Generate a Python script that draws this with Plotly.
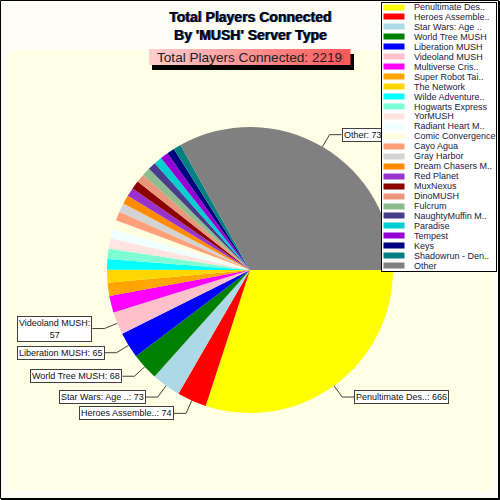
import numpy as np
import plotly.graph_objects as go

names = ["Penultimate Des..", "Heroes Assemble..", "Star Wars: Age ..", "World Tree MUSH",
         "Liberation MUSH", "Videoland MUSH", "Multiverse Cris..", "Super Robot Tai..",
         "The Network", "Wilde Adventure..", "Hogwarts Express", "YorMUSH",
         "Radiant Heart M..", "Comic Convergence", "Cayo Agua", "Gray Harbor",
         "Dream Chasers M..", "Red Planet", "MuxNexus", "DinoMUSH", "Fulcrum",
         "NaughtyMuffin M..", "Paradise", "Tempest", "Keys", "Shadowrun - Den..", "Other"]
players = [666, 74, 73, 68, 65, 57, 42, 33, 32, 27, 26, 25, 24, 23, 23, 22,
           22, 22, 21, 21, 21, 20, 20, 20, 19, 19, 734]
colors = ["yellow", "red", "lightblue", "green", "blue", "pink", "magenta", "orange",
          "gold", "cyan", "aquamarine", "mistyrose", "azure", "lightyellow", "lightsalmon",
          "lightgray", "darkorange", "darkorchid", "darkred", "darksalmon", "darkseagreen",
          "darkslateblue", "darkturquoise", "darkviolet", "navy", "teal", "gray"]

total = sum(players)
font = "Liberation Sans, Arial, sans-serif"

# pie geometry in page pixels
W = H = 500
cx, cy, rad = 250, 270, 143

fig = go.Figure()
fig.add_trace(go.Pie(
    labels=names, values=players, sort=False, direction="clockwise", rotation=90,
    marker=dict(colors=colors, line=dict(width=0)),
    textinfo="none", hoverinfo="label+value", showlegend=False,
    domain=dict(x=[(cx - rad) / W, (cx + rad) / W],
                y=[(H - cy - rad) / H, (H - cy + rad) / H]),
))

# labels with leader lines for the bigger slices
annotations = []
lx, ly = [], []
cum = np.cumsum([0] + players)
for i, (nm, v) in enumerate(zip(names, players)):
    if v / total < 0.025:
        continue
    mid = np.radians((cum[i] + v / 2) / total * 360)
    ex, ey = cx + rad * np.cos(mid), cy + rad * np.sin(mid)
    bx, by = cx + 157 * np.cos(mid), cy + 157 * np.sin(mid)
    side = 1 if np.cos(mid) > 0 else -1
    tx = bx + 12 * side
    lx += [ex, bx, tx, None]
    ly += [ey, by, by, None]
    txt = f"{nm}: {v}"
    if side < 0 and tx - len(txt) * 4.7 < 14:
        txt = f"{nm}:<br>{v}"
    annotations.append(dict(
        x=tx, y=by, xref="x", yref="y", text=txt, showarrow=False,
        xanchor="left" if side > 0 else "right", yanchor="middle",
        font=dict(family=font, size=9, color="#101010"),
        bgcolor="white", bordercolor="#404040", borderwidth=1, borderpad=1,
    ))

fig.add_trace(go.Scatter(x=lx, y=ly, mode="lines", line=dict(color="#404040", width=1),
                         hoverinfo="skip", showlegend=False))

# legend drawn by hand (tight rows)
annotations.append(dict(x=439, y=137, xref="x", yref="y", text=" ", showarrow=False,
                        width=114, height=268, bgcolor="white", bordercolor="black",
                        borderwidth=1, borderpad=0, xanchor="center", yanchor="middle"))
for i, (nm, c) in enumerate(zip(names, colors)):
    yy = 7 + i * 9.95
    annotations.append(dict(x=394, y=yy, xref="x", yref="y", text=" ", showarrow=False,
                            width=20, height=5, bgcolor=c, borderpad=0,
                            font=dict(size=3), xanchor="center", yanchor="middle"))
    annotations.append(dict(x=412, y=yy, xref="x", yref="y", text=nm, showarrow=False,
                            xanchor="left", yanchor="middle",
                            font=dict(family=font, size=9, color="#202040")))

# title
title = "<b>Total Players Connected<br>By 'MUSH' Server Type</b>"
for dx, col in [(1, "#3050b0"), (0, "black")]:
    annotations.append(dict(x=250 + dx, y=26, xref="x", yref="y", text=title, showarrow=False,
                            xanchor="center", yanchor="middle",
                            font=dict(family=font, size=14, color=col)))
annotations.append(dict(x=249, y=57, xref="x", yref="y",
                        text=f"Total Players Connected: {total}", showarrow=False,
                        xanchor="center", yanchor="middle",
                        font=dict(family=font, size=13.6, color="#202020")))

shapes = [
    dict(type="rect", xref="x", yref="y", x0=9, y0=51, x1=492, y1=490,
         fillcolor="#FFFFE6", line=dict(width=0), layer="below"),
    dict(type="rect", xref="x", yref="y", x0=0.5, y0=0.5, x1=498.5, y1=498.5,
         line=dict(color="black", width=1), layer="above"),
    dict(type="rect", xref="x", yref="y", x0=498.5, y0=1, x1=500, y1=500,
         fillcolor="black", line=dict(width=0), layer="above"),
    dict(type="rect", xref="x", yref="y", x0=1, y0=498.5, x1=500, y1=500,
         fillcolor="black", line=dict(width=0), layer="above"),
    dict(type="rect", xref="x", yref="y", x0=152, y0=54, x1=354, y1=70,
         fillcolor="black", line=dict(width=0), layer="below"),
]
# pink gradient box behind the total
n = 30
for k in range(n):
    f = k / (n - 1)
    g = int(205 - 115 * f)
    shapes.append(dict(type="rect", xref="x", yref="y",
                       x0=149 + 201 * k / n, x1=149 + 201 * (k + 1) / n + 0.5, y0=49, y1=65,
                       fillcolor=f"rgb(255,{g},{g})", line=dict(width=0), layer="below"))

fig.update_layout(
    width=W, height=H, margin=dict(l=0, r=0, t=0, b=0),
    paper_bgcolor="#FEFEF6", plot_bgcolor="rgba(0,0,0,0)",
    xaxis=dict(range=[0, W], visible=False, fixedrange=True),
    yaxis=dict(range=[H, 0], visible=False, fixedrange=True),
    annotations=annotations, shapes=shapes, showlegend=False,
)

fig.write_html("out.html", config={"displayModeBar": False},
               post_script="document.body.style.margin='0px';")
